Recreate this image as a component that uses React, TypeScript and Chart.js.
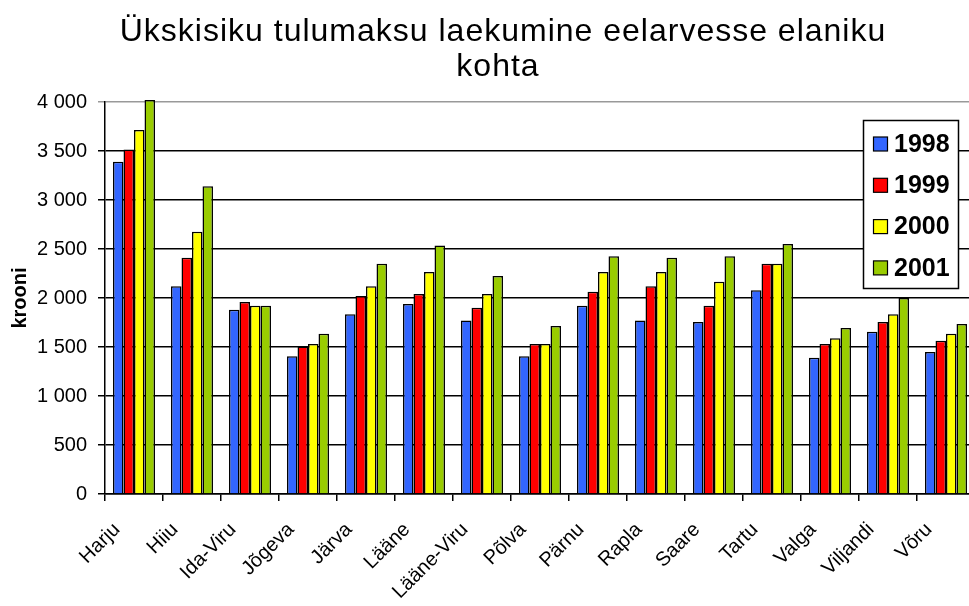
import React, { useEffect, useRef } from "react";
import { Chart, registerables } from "chart.js";

Chart.register(...registerables);

const titleLines = ["Ükskisiku tulumaksu laekumine eelarvesse elaniku", "kohta"];
const yAxisTitle = "krooni";
const regions = ["Harju", "Hiiu", "Ida-Viru", "Jõgeva", "Järva", "Lääne", "Lääne-Viru", "Põlva", "Pärnu", "Rapla", "Saare", "Tartu", "Valga", "Viljandi", "Võru"];
const seriesNames = ["1998", "1999", "2000", "2001"];
const seriesColors = ["#3366FF", "#FF0000", "#FFFF00", "#99CC00"];
const y1998 = [3390, 2120, 1880, 1405, 1835, 1940, 1770, 1405, 1920, 1770, 1755, 2080, 1390, 1655, 1450];
const y1999 = [3515, 2410, 1960, 1505, 2020, 2040, 1900, 1530, 2065, 2120, 1920, 2350, 1530, 1755, 1565];
const y2000 = [3715, 2675, 1920, 1530, 2120, 2265, 2040, 1530, 2265, 2265, 2165, 2350, 1590, 1835, 1635];
const y2001 = [4020, 3140, 1920, 1635, 2350, 2535, 2225, 1715, 2425, 2410, 2425, 2550, 1695, 2000, 1735];
const seriesValues = [y1998, y1999, y2000, y2001];

const FONT = '"Liberation Sans", Arial, sans-serif';

const overlayPlugin = {
  id: "overlay",
  afterDraw(chart: any) {
    const ctx = chart.ctx as CanvasRenderingContext2D;
    ctx.save();
    // title
    ctx.fillStyle = "#000";
    ctx.font = `32px ${FONT}`;
    (ctx as any).letterSpacing = "1px";
    ctx.textAlign = "center";
    ctx.textBaseline = "alphabetic";
    ctx.fillText(titleLines[0], 503, 41);
    ctx.fillText(titleLines[1], 498, 76);
    (ctx as any).letterSpacing = "0px";
    // legend
    const bx = 863.5, by = 120.5, bw = 95, bh = 168;
    ctx.fillStyle = "#fff";
    ctx.fillRect(bx, by, bw, bh);
    ctx.strokeStyle = "#000";
    ctx.lineWidth = 1.5;
    ctx.strokeRect(bx, by, bw, bh);
    chart.data.datasets.forEach((ds: any, i: number) => {
      const cy = 144 + i * 41.3;
      ctx.fillStyle = ds.backgroundColor;
      ctx.fillRect(873.5, cy - 7, 14, 14);
      ctx.lineWidth = 1.2;
      ctx.strokeRect(873.5, cy - 7, 14, 14);
      ctx.fillStyle = "#000";
      ctx.font = `bold 25px ${FONT}`;
      ctx.textAlign = "left";
      ctx.textBaseline = "middle";
      ctx.fillText(ds.label, 894, cy + 1);
    });
    ctx.restore();
  },
};

export default function App() {
  const ref = useRef<HTMLCanvasElement>(null);
  useEffect(() => {
    if (!ref.current) return;
    const chart = new Chart(ref.current, {
      type: "bar",
      data: {
        labels: regions,
        datasets: seriesNames.map((name, i) => ({
          label: name,
          data: seriesValues[i],
          backgroundColor: seriesColors[i],
          borderColor: "#000",
          borderWidth: 1.5,
          categoryPercentage: 0.724,
          barPercentage: 1,
          clip: false as any,
        })),
      },
      options: {
        responsive: false,
        animation: false,
        layout: { padding: { top: 102, right: 25, left: 0, bottom: 0 } },
        plugins: {
          legend: { display: false },
          title: { display: false },
          tooltip: { enabled: false },
        },
        scales: {
          x: {
            type: "category",
            offset: true,
            afterFit: (s: any) => { s.height = 112; },
            grid: { offset: true, drawOnChartArea: false, drawTicks: true, tickLength: 7, color: "#000", lineWidth: 1.5 },
            border: { display: true, color: "#000", width: 1.5 },
            ticks: {
              autoSkip: false,
              maxRotation: 45,
              minRotation: 45,
              color: "#000",
              font: { family: FONT, size: 20 },
              padding: 17,
              labelOffset: -17,
            },
          },
          y: {
            min: 0,
            max: 4000,
            afterFit: (s: any) => { s.width = 105; },
            ticks: {
              stepSize: 500,
              color: "#000",
              padding: 11,
              font: { family: FONT, size: 20 },
              callback: (v: any) => {
                const n = Number(v);
                return n >= 1000 ? `${Math.floor(n / 1000)} ${String(n % 1000).padStart(3, "0")}` : String(n);
              },
            },
            grid: {
              color: (c: any) => (c.tick && c.tick.value === 4000 ? "#999" : "#000"),
              lineWidth: 1.5,
              tickLength: 7,
            },
            border: { display: true, color: "#000", width: 1.5 },
            title: {
              display: true,
              text: yAxisTitle,
              color: "#000",
              font: { family: FONT, size: 20, weight: "bold" },
              padding: { top: 8, bottom: 0 },
            },
          },
        },
      },
      plugins: [overlayPlugin],
    });
    return () => chart.destroy();
  }, []);
  return (
    <div style={{ position: "fixed", left: 0, top: 0, width: 969, height: 606, overflow: "hidden", background: "#fff" }}>
      <canvas ref={ref} width={1000} height={606} style={{ display: "block" }} />
    </div>
  );
}
